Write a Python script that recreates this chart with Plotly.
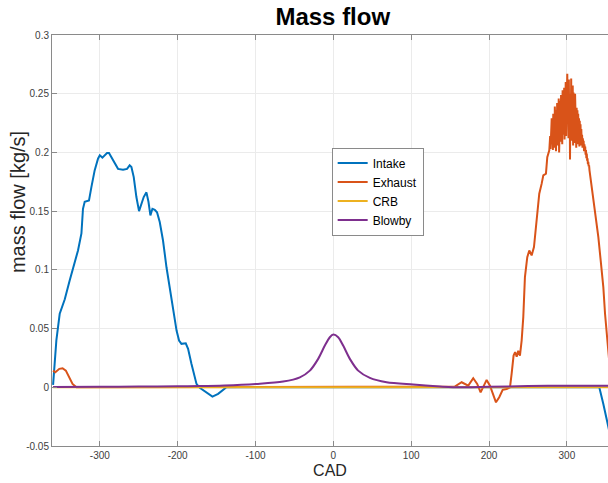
import plotly.graph_objects as go

# ---------------- data ----------------
intake_cad = [-360, -355.8, -351.5, -345, -338.7, -334.4, -328, -323.6, -321.6, -319.4, -313.9,
              -310.8, -306.6, -302.3, -300, -296.7, -293.7, -290.7, -288.2, -285.1, -280.8,
              -276.6, -270.2, -265, -261.6, -259.4, -256.4, -253, -249.6, -246.5, -243.6,
              -240.1, -237.5, -235, -232.4, -229.4, -226.5, -223, -218.8, -214.3, -209.3,
              -205.4, -201.4, -198.2, -195.1, -189.6, -186.6, -182.3, -175.8, -171.6, -163,
              -155.3, -148, -141.6, -137.3, 0, 341.6, 346.8, 352.8, 356]
intake_flow = [0.002, 0.040, 0.0626, 0.075, 0.091, 0.102, 0.1165, 0.131, 0.152, 0.158, 0.159,
               0.1705, 0.1847, 0.1947, 0.1975, 0.1956, 0.1975, 0.1995, 0.1995, 0.196, 0.190,
               0.186, 0.1853, 0.186, 0.189, 0.1876, 0.179, 0.162, 0.150, 0.1563, 0.162,
               0.166, 0.158, 0.1464, 0.152, 0.1512, 0.149, 0.1407, 0.125, 0.102, 0.0824,
               0.0654, 0.0483, 0.0398, 0.037, 0.0375, 0.0327, 0.020, 0.0029, -0.0005, -0.0043,
               -0.0079, -0.0056, -0.0022, 0.0, 0.0, 0.0, -0.0142, -0.034, -0.042]

# exhaust: smooth part before the noisy peak
exhaust_cad_a = [-360, -357.1, -352, -347.8, -343.6, -339.3, -335, -330, 150, 156, 164.8, 169,
                 173.3, 179.7, 184.8, 189.2, 192.5, 196.9, 201.2, 205.4, 208.9, 213.1, 217.5,
                 222.6, 226.9, 229, 231.5, 233.5, 235.5, 237.5, 239.7, 241.9, 244, 246.1, 249.1,
                 251.7, 254.7, 257.7, 261.2, 264.5, 267.6, 269.7, 273.1, 274.8, 277.4]
exhaust_flow_a = [0.0142, 0.0128, 0.0157, 0.0162, 0.0142, 0.0085, 0.0029, 0.0, 0.0, 0.0006,
                  0.0043, 0.0029, 0.0014, 0.0077, 0.0029, -0.0043, 0.0, 0.0063, 0.0014, -0.0071,
                  -0.0128, -0.0085, -0.0022, -0.0014, 0.0, 0.0114, 0.027, 0.030, 0.026, 0.031,
                  0.027, 0.040, 0.060, 0.0938, 0.1108, 0.1165, 0.1123, 0.1194, 0.1421, 0.1649,
                  0.1734, 0.1805, 0.1819, 0.196, 0.2018]
# exhaust: noisy peak region (every half degree)
exhaust_cad_b = [278, 278.5, 279, 279.5, 280, 280.5, 281, 281.5, 282, 282.5, 283, 283.5,
                 284, 284.5, 285, 285.5, 286, 286.5, 287, 287.5, 288, 288.5, 289, 289.5,
                 290, 290.5, 291, 291.5, 292, 292.5, 293, 293.5, 294, 294.5, 295, 295.5,
                 296, 296.5, 297, 297.5, 298, 298.5, 299, 299.5, 300, 300.5, 301, 301.5,
                 302, 302.5, 303, 303.5, 304, 304.5, 305, 305.5, 306, 306.5, 307, 307.5,
                 308, 308.5, 309, 309.5, 310, 310.5, 311, 311.5, 312, 312.5, 313, 313.5,
                 314, 314.5, 315, 315.5, 316, 316.5, 317, 317.5, 318, 318.5, 319, 319.5,
                 320, 320.5, 321, 321.5, 322, 322.5, 323, 323.5, 324, 324.5, 325, 325.5,
                 326, 326.5, 327, 327.5, 328, 328.5, 329]
exhaust_flow_b = [0.206, 0.214, 0.203, 0.221, 0.205, 0.229, 0.207, 0.224, 0.202, 0.233, 0.211, 0.228,
                  0.204, 0.239, 0.209, 0.231, 0.201, 0.236, 0.214, 0.242, 0.206, 0.230, 0.212, 0.246,
                  0.200, 0.238, 0.216, 0.244, 0.209, 0.249, 0.218, 0.240, 0.207, 0.253, 0.215, 0.247,
                  0.222, 0.255, 0.211, 0.243, 0.226, 0.260, 0.214, 0.252, 0.220, 0.267, 0.230, 0.258,
                  0.212, 0.262, 0.225, 0.250, 0.194, 0.248, 0.218, 0.263, 0.210, 0.244, 0.222, 0.257,
                  0.206, 0.251, 0.219, 0.246, 0.208, 0.250, 0.215, 0.241, 0.204, 0.238, 0.212, 0.236,
                  0.207, 0.233, 0.214, 0.229, 0.205, 0.227, 0.211, 0.224, 0.206, 0.220, 0.209, 0.215,
                  0.204, 0.212, 0.206, 0.210, 0.201, 0.207, 0.203, 0.205, 0.198, 0.202, 0.195, 0.199,
                  0.193, 0.195, 0.190, 0.192, 0.188, 0.189, 0.185]
# exhaust: falling edge
exhaust_cad_c = [331.9, 334.8, 337.4, 340.4, 343.4, 346.8, 349, 351.2, 352.8, 356]
exhaust_flow_c = [0.1705, 0.1563, 0.1449, 0.1279, 0.108, 0.0853, 0.0626, 0.0455, 0.0285, 0.010]

crb_cad = [-360, 356]
crb_flow = [0.0, 0.0]

blowby_cad = [-360, -300, -250, -200, -171.6, -140, -98.7, -64.5, -43, -30.2, -19.5, -10.9,
              -4.5, 0, 6.2, 12.6, 21.2, 31.9, 46.9, 68.4, 102.6, 136.9, 153.6, 200, 250, 300, 356]
blowby_flow = [0.0003, 0.0004, 0.0006, 0.0008, 0.0010, 0.0015, 0.0029, 0.0049, 0.0085, 0.0142,
               0.0242, 0.0355, 0.0426, 0.0449, 0.0426, 0.0355, 0.0242, 0.0142, 0.008, 0.0043,
               0.0023, 0.0006, 0.0, 0.0004, 0.0010, 0.0014, 0.0014]

x_ticks = [-300, -200, -100, 0, 100, 200, 300]
x_tick_labels = ["-300", "-200", "-100", "0", "100", "200", "300"]
y_ticks = [-0.05, 0, 0.05, 0.1, 0.15, 0.2, 0.25, 0.3]
y_tick_labels = ["-0.05", "0", "0.05", "0.1", "0.15", "0.2", "0.25", "0.3"]

exhaust_cad = exhaust_cad_a + exhaust_cad_b + exhaust_cad_c
exhaust_flow = exhaust_flow_a + exhaust_flow_b + exhaust_flow_c

colors = ["#0072BD", "#D95319", "#EDB120", "#7E2F8E"]
FONT = "Liberation Sans, Arial, Helvetica, sans-serif"

fig = go.Figure()
fig.add_trace(go.Scatter(x=intake_cad, y=intake_flow, mode="lines", name="Intake",
                         line=dict(color=colors[0], width=2)))
fig.add_trace(go.Scatter(x=exhaust_cad, y=exhaust_flow, mode="lines", name="Exhaust",
                         line=dict(color=colors[1], width=2)))
fig.add_trace(go.Scatter(x=crb_cad, y=crb_flow, mode="lines", name="CRB",
                         line=dict(color=colors[2], width=2)))
fig.add_trace(go.Scatter(x=blowby_cad, y=blowby_flow, mode="lines", name="Blowby",
                         line=dict(color=colors[3], width=2, shape="spline", smoothing=0.8)))

axis_common = dict(
    showline=True, linecolor="#8a8a8a", linewidth=1,
    ticks="inside", ticklen=5, tickcolor="#8a8a8a", tickwidth=1,
    showgrid=True, gridcolor="#ebebeb", gridwidth=1,
    zeroline=False,
    tickfont=dict(family=FONT, size=10, color="#404040"),
)

fig.update_layout(
    width=608, height=483,
    margin=dict(l=52, r=0, t=35, b=37),
    paper_bgcolor="white", plot_bgcolor="white",
    font=dict(family=FONT, color="#262626"),
    title=dict(text="<b>Mass flow</b>", x=0.505, xref="paper", xanchor="center",
               y=1 - 17 / 483, yref="container", yanchor="middle",
               font=dict(family=FONT, size=24, color="#000000")),
    xaxis=dict(range=[-361.4, 352.8], tickvals=x_ticks, ticktext=x_tick_labels,
               mirror="ticks",
               title=dict(text="CAD", font=dict(family=FONT, size=16, color="#262626"),
                          standoff=4),
               **axis_common),
    yaxis=dict(range=[-0.05, 0.3], tickvals=y_ticks, ticktext=y_tick_labels,
               **axis_common),
    annotations=[dict(text="mass flow [kg/s]", textangle=-90, showarrow=False,
                      xref="paper", yref="paper", x=(18 - 52) / 556, y=(445.7 - 202) / 410.7,
                      xanchor="center", yanchor="middle",
                      font=dict(family=FONT, size=20, color="#262626"))],
    legend=dict(x=0.503, y=0.726, xanchor="left", yanchor="top",
                bgcolor="white", bordercolor="#8a8a8a", borderwidth=1,
                font=dict(family=FONT, size=12, color="#000000"),
                itemwidth=30, tracegroupgap=0),
    showlegend=True,
)

fig.write_html("out.html")
